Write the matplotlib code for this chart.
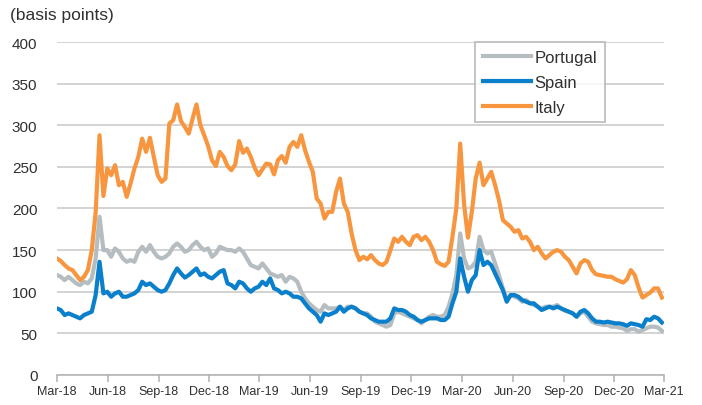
import numpy as np, pandas as pd, matplotlib
matplotlib.use("Agg"); import matplotlib.pyplot as plt, matplotlib.dates as mdates
plt.rcParams["font.family"] = ["Liberation Sans", "DejaVu Sans"]

# weekly readings, Mar-18 .. Feb-21 (basis points)
dates = pd.date_range("2018-03-01", periods=157, freq="7D")
portugal = [120,118,114,118,114,110,108,112,110,116,140,190,150,150,142,152,148,140,136,138,136,148,154,148,156,148,142,140,142,146,154,
            158,154,148,150,156,160,154,150,152,142,146,154,152,150,150,148,152,148,140,132,130,128,134,128,122,120,118,120,112,118,116,
            112,100,92,86,82,78,76,84,80,80,80,82,78,82,82,80,76,74,74,70,64,62,60,58,60,74,76,74,72,70,68,
            66,62,66,70,72,70,70,72,82,98,120,170,140,128,130,136,166,150,146,148,134,120,104,90,96,94,92,88,90,86,
            84,82,80,82,82,82,84,80,77,76,74,70,74,76,70,64,62,61,60,60,58,58,57,56,53,55,55,52,54,56,58,58,57,53]
spain = [80,78,72,74,72,70,68,72,74,76,96,136,98,100,94,98,100,94,94,96,98,102,112,108,110,106,102,100,102,110,120,
         128,122,117,120,124,128,120,122,118,116,120,124,126,110,108,104,112,110,104,100,104,106,112,108,116,104,102,98,100,98,94,
         94,92,86,80,76,72,64,74,72,74,76,82,76,80,82,80,76,74,72,68,66,64,64,64,68,80,78,78,76,72,70,
         66,64,66,68,68,68,66,66,70,86,100,140,118,100,114,120,150,132,136,132,122,112,102,88,96,96,94,90,88,86,
         86,82,78,80,82,80,82,80,78,76,74,70,76,78,74,68,64,64,63,64,63,62,62,61,59,62,61,60,58,67,66,70,68,63]
italy = [140,137,132,128,126,120,114,118,126,150,195,288,215,248,
         240,252,228,232,214,230,248,262,284,268,285,262,240,232,236,302,306,325,305,298,290,308,325,300,288,275,258,251,268,262,251,246,
         253,281,267,272,262,249,240,247,254,253,241,258,263,255,274,
         280,274,288,270,256,244,212,206,188,196,196,220,236,206,196,170,150,138,142,139,144,138,134,132,136,150,164,160,166,160,156,166,
         168,162,166,160,150,136,133,131,136,166,200,278,205,165,196,236,255,228,236,244,228,210,186,182,178,172,174,164,166,160,
         150,154,146,140,144,148,150,148,142,138,130,122,134,138,136,126,121,120,119,118,118,115,113,111,115,126,120,105,93,96,99,104,104,93]
series = [("Portugal", portugal, "#B5BDC0"), ("Spain", spain, "#0A80CC"), ("Italy", italy, "#F7963F")]
yticks = np.arange(0, 401, 50)

fig = plt.figure(figsize=(7.02, 4.06), dpi=100)
ax = fig.add_axes([0.081, 0.074, 0.865, 0.820])
for name, vals, col in series:
    ax.plot(dates, vals, color=col, lw=3.0, label=name, solid_joinstyle="round")
ax.set_ylim(0, 400); ax.set_yticks(yticks)
ax.set_xlim(pd.Timestamp("2018-03-01"), pd.Timestamp("2021-03-01"))
ax.xaxis.set_major_locator(mdates.MonthLocator(bymonth=[3, 6, 9, 12]))
ax.xaxis.set_major_formatter(mdates.DateFormatter("%b-%y"))
ax.grid(axis="y", color="#C8C8C8", lw=1.1); ax.set_axisbelow(True)
for s in ["top", "right", "left"]: ax.spines[s].set_visible(False)
ax.spines["bottom"].set_color("#B0B0B0"); ax.spines["bottom"].set_linewidth(1.1)
ax.tick_params(axis="y", length=0, pad=14, labelsize=11, labelcolor="#303030")
ax.tick_params(axis="x", length=5, color="#B0B0B0", width=1.1, labelsize=9, labelcolor="#303030", pad=2)
fig.text(0.014, 0.962, "(basis points)", fontsize=12.5, color="#303030", va="center")
leg = ax.legend(loc="upper left", bbox_to_anchor=(0.689, 1.0), fontsize=12, frameon=True, fancybox=False,
                edgecolor="#B0B0B0", handlelength=2.9, handletextpad=0.2, borderpad=0.45, labelspacing=0.6,
                borderaxespad=0)
leg.get_frame().set_linewidth(1.3)
for t in leg.get_texts(): t.set_color("#303030")
fig.savefig("out.png", dpi=100)
